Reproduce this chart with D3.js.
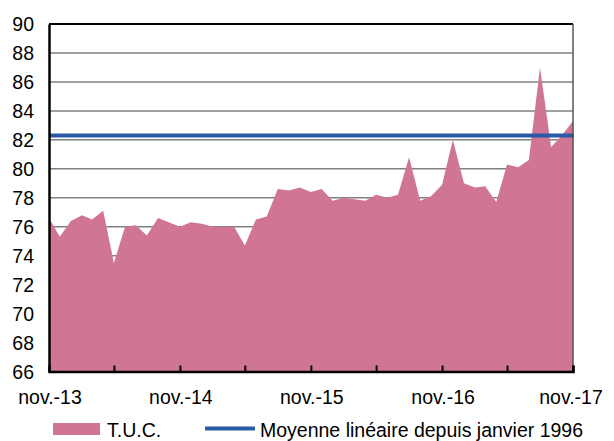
<!DOCTYPE html>
<html>
<head>
<meta charset="utf-8">
<script src="https://cdn.jsdelivr.net/npm/d3@7"></script>
<style>
  html, body { margin: 0; padding: 0; background: #fff; }
  svg text { font-family: "Liberation Sans", Arial, sans-serif; fill: #000; }
</style>
</head>
<body>
<svg id="chart" width="614" height="441"></svg>
<script>
// ---- Data (monthly, nov. 2013 -> nov. 2017) ----
const months = d3.range(49).map(i => new Date(2013, 10 + i, 1));
const tucValues = [
  76.6, 75.3, 76.4, 76.8, 76.5, 77.1, 73.5, 76.0, 76.1, 75.4, 76.6, 76.3,
  76.0, 76.3, 76.2, 76.0, 76.0, 76.0, 74.7, 76.5, 76.7, 78.6, 78.5, 78.7,
  78.4, 78.6, 77.8, 78.0, 77.9, 77.8, 78.2, 78.0, 78.2, 80.8, 77.8, 78.1,
  78.9, 82.0, 79.0, 78.7, 78.8, 77.7, 80.3, 80.1, 80.6, 87.0, 81.5, 82.3,
  83.3
];
const meanValue = 82.3;
const yTicks = [66, 68, 70, 72, 74, 76, 78, 80, 82, 84, 86, 88, 90];
const xLabelDates = [new Date(2013,10,1), new Date(2014,10,1), new Date(2015,10,1), new Date(2016,10,1), new Date(2017,10,1)];
const xTickDates = d3.range(0, 49, 6).map(i => new Date(2013, 10 + i, 1));
const legendLabels = ["T.U.C.", "Moyenne linéaire depuis janvier 1996"];

const data = months.map((d, i) => ({ date: d, value: tucValues[i] }));

const svg = d3.select("#chart");
const L = 49, R = 573, T = 24, B = 371.5;
const FS = 19.5;

const x = d3.scaleTime().domain([months[0], months[months.length - 1]]).range([L, R]);
const y = d3.scaleLinear().domain([66, 90]).range([B, T]);

const pink = "#d17597";
const blue = "#2a5aa6";

// gridlines
svg.append("g")
  .selectAll("line")
  .data(yTicks.filter(v => v > 66 && v < 90))
  .join("line")
  .attr("x1", L).attr("x2", R)
  .attr("y1", d => y(d)).attr("y2", d => y(d))
  .attr("stroke", "#808080").attr("stroke-width", 1.5);

// area
const area = d3.area()
  .x(d => x(d.date))
  .y0(y(66))
  .y1(d => y(d.value));
svg.append("path").datum(data).attr("d", area).attr("fill", pink);

// mean line
svg.append("line")
  .attr("x1", L).attr("x2", R + 1)
  .attr("y1", y(meanValue)).attr("y2", y(meanValue))
  .attr("stroke", blue).attr("stroke-width", 4);

// frame: top and right
svg.append("line").attr("x1", L).attr("x2", R).attr("y1", T).attr("y2", T)
  .attr("stroke", "#000").attr("stroke-width", 2);
svg.append("line").attr("x1", R).attr("x2", R).attr("y1", T).attr("y2", B)
  .attr("stroke", "#555").attr("stroke-width", 1.5);

// y axis
const yAxis = d3.axisLeft(y).tickValues(yTicks).tickSize(0).tickPadding(0).tickFormat(d3.format("d"));
const gy = svg.append("g").attr("transform", `translate(${L},0)`).call(yAxis);
gy.select(".domain").attr("stroke", "#000").attr("stroke-width", 2.5);
gy.selectAll("text").attr("font-size", FS).attr("x", -15).attr("dy", "0.35em")
  .style("font-family", "'Liberation Sans', Arial, sans-serif");

// x axis (ticks pointing inward)
const xAxis = d3.axisBottom(x).tickValues(xTickDates).tickSize(-6).tickFormat("");
const gx = svg.append("g").attr("transform", `translate(0,${B})`).call(xAxis);
gx.select(".domain").attr("stroke", "#000").attr("stroke-width", 2.5);
gx.selectAll(".tick line").attr("stroke", "#000").attr("stroke-width", 2);

const fmt = d => "nov.-" + d3.timeFormat("%y")(d);
svg.append("g").selectAll("text")
  .data(xLabelDates)
  .join("text")
  .attr("x", (d, i) => x(d) + (i === xLabelDates.length - 1 ? -2 : 1))
  .attr("y", 404)
  .attr("text-anchor", "middle")
  .attr("font-size", FS)
  .text(fmt);

// legend
const lg = svg.append("g");
lg.append("rect").attr("x", 53).attr("y", 423).attr("width", 47).attr("height", 12).attr("fill", pink);
lg.append("text").attr("x", 107).attr("y", 437).attr("font-size", FS).text(legendLabels[0]);
lg.append("line").attr("x1", 205).attr("x2", 255).attr("y1", 428.5).attr("y2", 428.5)
  .attr("stroke", blue).attr("stroke-width", 4);
lg.append("text").attr("x", 260).attr("y", 437).attr("font-size", FS).text(legendLabels[1]);
</script>
</body>
</html>
